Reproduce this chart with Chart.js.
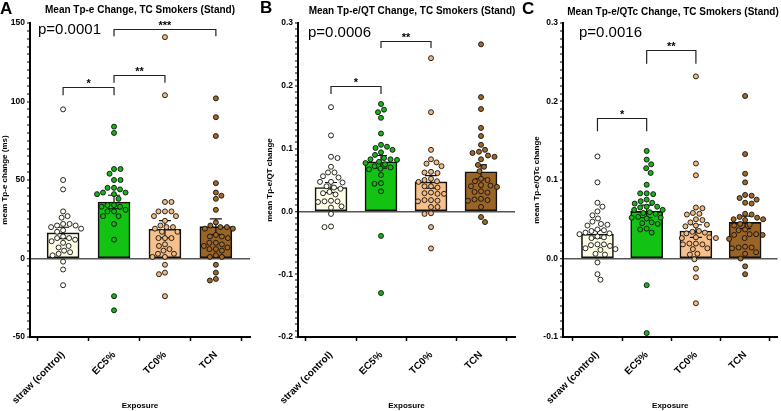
<!DOCTYPE html>
<html>
<head>
<meta charset="utf-8">
<script src="https://cdn.jsdelivr.net/npm/chart.js@4.4.1/dist/chart.umd.min.js"></script>
<style>
  html, body { margin: 0; padding: 0; background: #fff; }
  #wrap { position: relative; width: 781px; height: 411px; overflow: hidden; }
  canvas { position: absolute; top: 0; }
</style>
</head>
<body>
<div id="wrap">
  <canvas id="panelA" width="260" height="411" style="left:0"></canvas>
  <canvas id="panelB" width="260" height="411" style="left:260px"></canvas>
  <canvas id="panelC" width="261" height="411" style="left:520px"></canvas>
</div>
<script>
// ---- data ----
const categories = ['straw (control)', 'EC5%', 'TC0%', 'TCN'];

// A: mean Tp-e change (ms)
const tpeStraw = [95, 50, 44, 30, 27, 26, 22, 22, 21, 21, 20, 19, 18, 17, 14, 13, 13, 12, 11, 10, 8, 7, 5, 4, 3, 2, -2, -7, -17];
const tpeEc5   = [84, 80, 57, 57, 54, 50, 50, 45, 45, 44, 42, 42, 41, 41, 38, 34, 34, 33, 33, 31, 30, 30, 27, 27, 22, 12, -24, -33];
const tpeTc0   = [141, 104, 36, 36, 30, 30, 30, 27, 27, 24, 21, 20, 20, 19, 17, 17, 13, 13, 13, 9, 8, 6, 5, 3, 3, 1, 1, -4, -9, -10, -24];
const tpeTcn   = [102, 90, 78, 48, 42, 40, 38, 31, 23, 21, 20, 20, 19, 19, 15, 14, 14, 13, 10, 10, 9, 8, 7, 6, 6, 5, 2, 1, 1, -4, -9, -13, -14];
const tpeMeans = [16.3, 36.0, 18.6, 20.3];
const tpeSem   = [3.6, 4.3, 5.5, 5.0];
const tpeBrackets = [
  { from: 0, to: 1, y: 109, drop: 5, label: '*' },
  { from: 1, to: 2, y: 117, drop: 5, label: '**' },
  { from: 1, to: 3, y: 146, drop: 4.5, label: '***' }
];

// B: mean Tp-e/QT change
const qtStraw = [0.166, 0.121, 0.087, 0.085, 0.071, 0.062, 0.062, 0.056, 0.054, 0.047, 0.047, 0.046, 0.040, 0.038, 0.036, 0.031, 0.029, 0.027, 0.017, 0.016, 0.016, 0.015, 0.008, 0.006, -0.004, -0.024, -0.025];
const qtEc5   = [0.171, 0.162, 0.158, 0.149, 0.124, 0.106, 0.103, 0.101, 0.098, 0.094, 0.090, 0.085, 0.083, 0.083, 0.082, 0.079, 0.077, 0.075, 0.072, 0.070, 0.068, 0.067, 0.058, 0.045, 0.044, 0.032, -0.039, -0.130];
const qtTc0   = [0.244, 0.158, 0.098, 0.083, 0.078, 0.076, 0.072, 0.063, 0.062, 0.061, 0.052, 0.050, 0.048, 0.047, 0.040, 0.040, 0.038, 0.030, 0.029, 0.028, 0.028, 0.018, 0.018, 0.017, 0.016, 0.007, 0.007, -0.003, -0.004, -0.025, -0.059];
const qtTcn   = [0.266, 0.182, 0.163, 0.133, 0.120, 0.106, 0.098, 0.095, 0.093, 0.089, 0.087, 0.083, 0.074, 0.071, 0.064, 0.052, 0.050, 0.048, 0.042, 0.041, 0.040, 0.039, 0.032, 0.031, 0.030, 0.020, 0.019, 0.018, 0.017, 0.007, -0.009, -0.017];
const qtMeans = [0.038, 0.079, 0.047, 0.063];
const qtSem   = [0.008, 0.010, 0.010, 0.011];
const qtBrackets = [
  { from: 0, to: 1, y: 0.199, drop: 0.012, label: '*' },
  { from: 1, to: 2, y: 0.271, drop: 0.011, label: '**' }
];

// C: mean Tp-e/QTc change
const qtcStraw = [0.130, 0.097, 0.071, 0.066, 0.060, 0.055, 0.051, 0.047, 0.044, 0.043, 0.042, 0.037, 0.036, 0.035, 0.033, 0.032, 0.031, 0.028, 0.027, 0.026, 0.018, 0.018, 0.017, 0.016, 0.013, 0.012, 0.011, 0.006, 0.005, -0.005, -0.020, -0.027];
const qtcEc5   = [0.137, 0.126, 0.120, 0.115, 0.109, 0.094, 0.083, 0.083, 0.082, 0.075, 0.073, 0.071, 0.070, 0.066, 0.066, 0.065, 0.062, 0.062, 0.059, 0.058, 0.057, 0.053, 0.052, 0.052, 0.051, 0.046, 0.045, 0.044, 0.038, 0.037, 0.033, -0.034, -0.095];
const qtcTc0   = [0.232, 0.121, 0.106, 0.065, 0.064, 0.058, 0.057, 0.056, 0.050, 0.049, 0.046, 0.043, 0.042, 0.041, 0.035, 0.034, 0.033, 0.032, 0.027, 0.027, 0.026, 0.026, 0.019, 0.019, 0.018, 0.018, 0.013, 0.012, 0.006, 0.005, -0.001, -0.013, -0.024, -0.057];
const qtcTcn   = [0.207, 0.133, 0.108, 0.097, 0.081, 0.080, 0.077, 0.075, 0.071, 0.070, 0.057, 0.056, 0.053, 0.052, 0.050, 0.050, 0.049, 0.044, 0.043, 0.042, 0.037, 0.036, 0.031, 0.031, 0.030, 0.030, 0.026, 0.025, 0.015, 0.014, 0.014, 0.013, 0.008, 0.006, 0.000, -0.010, -0.020];
const qtcMeans = [0.031, 0.060, 0.035, 0.046];
const qtcSem   = [0.005, 0.008, 0.008, 0.008];
const qtcBrackets = [
  { from: 0, to: 1, y: 0.179, drop: 0.017, label: '*' },
  { from: 1, to: 2, y: 0.266, drop: 0.018, label: '**' }
];

// ---- look ----
const FONT = "'Liberation Sans', Arial, Helvetica, sans-serif";
const BAR_COLORS = ['#FFFDE4', '#13C313', '#F6C08C', '#9B6427'];
const DOT_COLORS = ['#FFFFF4', '#16B416', '#F4B97F', '#A06829'];
const INK = '#111';

Chart.defaults.font.family = FONT;
Chart.defaults.color = '#000';

const isMul = (v, m) => Math.abs(v / m - Math.round(v / m)) < 1e-6;

// Mean ± SEM whiskers, drawn right after the bars (under the dots)
const errorBars = {
  id: 'errorBars',
  afterDatasetDraw(chart, args) {
    if (args.meta.type !== 'bar') return;
    const p = chart.config.options.panel;
    const { ctx, scales: { x, y } } = chart;
    ctx.save();
    ctx.strokeStyle = INK;
    ctx.lineWidth = 1.2;
    p.means.forEach((m, i) => {
      const cx = x.getPixelForValue(i);
      const top = y.getPixelForValue(m + p.sem[i]);
      const bot = y.getPixelForValue(m - p.sem[i]);
      ctx.beginPath();
      ctx.moveTo(cx, top); ctx.lineTo(cx, bot);
      ctx.moveTo(cx - 6, top); ctx.lineTo(cx + 6, top);
      ctx.moveTo(cx - 6, bot); ctx.lineTo(cx + 6, bot);
      ctx.stroke();
    });
    ctx.restore();
  }
};

// Panel letter, title, p-value and significance brackets
const annotations = {
  id: 'annotations',
  afterDraw(chart) {
    const p = chart.config.options.panel;
    const { ctx, chartArea, scales: { x, y } } = chart;
    ctx.save();
    ctx.fillStyle = '#000';
    ctx.textBaseline = 'alphabetic';
    ctx.textAlign = 'left';
    ctx.font = 'bold 17px ' + FONT;
    ctx.fillText(p.letter, p.letterX, p.letterY);

    ctx.textAlign = 'center';
    ctx.textBaseline = 'middle';
    ctx.font = 'bold 10px ' + FONT;
    ctx.fillText(p.title, p.titleX, p.titleY);

    ctx.textAlign = 'left';
    ctx.textBaseline = 'alphabetic';
    ctx.font = '15px ' + FONT;
    ctx.fillText(p.pText, chartArea.left + p.pOffset, p.pBaseline);

    ctx.strokeStyle = '#222';
    ctx.lineWidth = 1.2;
    ctx.textAlign = 'center';
    ctx.font = 'bold 11px ' + FONT;
    p.brackets.forEach(b => {
      const x1 = x.getPixelForValue(b.from), x2 = x.getPixelForValue(b.to);
      const yl = Math.round(y.getPixelForValue(b.y)) + 0.5;
      const yd = y.getPixelForValue(b.y - b.drop);
      ctx.beginPath();
      ctx.moveTo(x1, yd); ctx.lineTo(x1, yl); ctx.lineTo(x2, yl); ctx.lineTo(x2, yd);
      ctx.stroke();
      ctx.fillText(b.label, (x1 + x2) / 2, yl - 1);
    });
    ctx.restore();
  }
};

// Spread dots sideways (pixel space) so they do not overlap, like a scatter dot plot
function swarmOffsets(vals, yScale, pxPerUnit, diam) {
  const order = vals.map((v, i) => i).sort((a, b) => vals[b] - vals[a]);
  const placed = [];
  const out = new Array(vals.length).fill(0);
  let flip = 1;
  order.forEach(i => {
    const py = yScale.getPixelForValue(vals[i]);
    let found = 0;
    for (let k = 0; k < 200; k++) {
      const cands = k === 0 ? [0] : [flip * k * 0.5, -flip * k * 0.5];
      const ok = cands.find(ox => placed.every(q => (q.x - ox) ** 2 + (q.y - py) ** 2 >= diam * diam));
      if (ok !== undefined) { found = ok; break; }
    }
    if (found !== 0) flip = -flip;
    placed.push({ x: found, y: py });
    out[i] = found / pxPerUnit;
  });
  return out;
}

function buildPanel(id, p) {
  const datasets = [{
    type: 'bar',
    order: 10,
    data: p.means.map((m, i) => ({ x: i, y: m })),
    backgroundColor: BAR_COLORS,
    borderColor: INK,
    borderWidth: 1.6,
    borderSkipped: false,
    barThickness: 32
  }].concat(p.groups.map((vals, g) => ({
    type: 'scatter',
    order: 0,
    data: vals.map(v => ({ x: g, y: v })),
    pointRadius: 2.5,
    pointHoverRadius: 2.5,
    pointBackgroundColor: DOT_COLORS[g],
    pointBorderColor: INK,
    pointBorderWidth: 0.9
  })));

  const chart = new Chart(document.getElementById(id), {
    type: 'bar',
    data: { datasets },
    plugins: [errorBars, annotations],
    options: {
      panel: p,
      responsive: false,
      animation: false,
      devicePixelRatio: 1,
      events: [],
      layout: { padding: { left: 0, right: p.padRight, top: 23, bottom: 0 } },
      plugins: { legend: { display: false }, tooltip: { enabled: false } },
      scales: {
        x: {
          type: 'linear',
          min: p.xMin, max: p.xMax,
          offset: false,
          afterFit: s => { s.height = 74; },
          afterBuildTicks: s => { s.ticks = categories.map((c, i) => ({ value: i })); },
          ticks: {
            autoSkip: false, minRotation: 45, maxRotation: 45, padding: 8,
            color: '#000', font: { size: 10, weight: 'bold' },
            callback: v => categories[v]
          },
          grid: { drawOnChartArea: false, tickLength: 4, tickColor: '#000', tickWidth: 1.5 },
          border: { color: '#000', width: 2 },
          title: { display: true, text: 'Exposure', color: '#000', font: { size: 8, weight: 'bold' }, padding: { top: 0, bottom: 0 } }
        },
        y: {
          min: p.yMin, max: p.yMax,
          afterFit: s => { s.width = p.axisWidth; },
          afterBuildTicks: s => {
            const n = Math.round((p.yMax - p.yMin) / p.minorStep);
            const t = [];
            for (let i = 0; i <= n; i++) t.push({ value: +(p.yMin + i * p.minorStep).toFixed(6) });
            s.ticks = t;
          },
          ticks: {
            autoSkip: false, padding: 2,
            color: '#000', font: { size: 8.5, weight: 'bold' },
            callback: v => isMul(v, p.majorStep) ? (p.decimals ? v.toFixed(p.decimals) : String(Math.round(v))) : ''
          },
          grid: {
            drawOnChartArea: true,
            color: c => (c.tick && Math.abs(c.tick.value) < 1e-9) ? '#555' : 'rgba(0,0,0,0)',
            lineWidth: c => (c.tick && Math.abs(c.tick.value) < 1e-9) ? 1.5 : 0,
            tickLength: 3, tickColor: '#000', tickWidth: 1.2
          },
          border: { color: '#000', width: 2 },
          title: { display: true, text: p.yTitle, color: '#000', font: { size: 8, weight: 'bold' }, padding: { top: p.yTitlePad, bottom: 0 } }
        }
      }
    }
  });

  const xs = chart.scales.x;
  const pxPerUnit = xs.getPixelForValue(1) - xs.getPixelForValue(0);
  p.groups.forEach((vals, g) => {
    const offs = swarmOffsets(vals, chart.scales.y, pxPerUnit, 6.2);
    chart.data.datasets[g + 1].data = vals.map((v, i) => ({ x: g + offs[i], y: v }));
  });
  chart.update('none');
  return chart;
}

buildPanel('panelA', {
  letter: 'A', letterX: 0, letterY: 14,
  title: 'Mean Tp-e Change, TC Smokers (Stand)', titleX: 140, titleY: 10,
  pText: 'p=0.0001', pOffset: 8, pBaseline: 34,
  yTitle: 'mean Tp-e change (ms)', yTitlePad: 0,
  groups: [tpeStraw, tpeEc5, tpeTc0, tpeTcn], means: tpeMeans, sem: tpeSem, brackets: tpeBrackets,
  yMin: -50, yMax: 150, minorStep: 5, majorStep: 50, decimals: 0,
  xMin: -0.65, xMax: 3.67, axisWidth: 30, padRight: 10
});
buildPanel('panelB', {
  letter: 'B', letterX: 0, letterY: 13,
  title: 'Mean Tp-e/QT Change, TC Smokers (Stand)', titleX: 152, titleY: 11.5,
  pText: 'p=0.0006', pOffset: 10, pBaseline: 37,
  yTitle: 'mean Tp-e/QT change', yTitlePad: 4.7,
  groups: [qtStraw, qtEc5, qtTc0, qtTcn], means: qtMeans, sem: qtSem, brackets: qtBrackets,
  yMin: -0.2, yMax: 0.3, minorStep: 0.01, majorStep: 0.1, decimals: 1,
  xMin: -0.66, xMax: 3.68, axisWidth: 38, padRight: 5
});
buildPanel('panelC', {
  letter: 'C', letterX: 2, letterY: 14,
  title: 'Mean Tp-e/QTc Change, TC Smokers (Stand)', titleX: 153, titleY: 12.5,
  pText: 'p=0.0016', pOffset: 16, pBaseline: 37,
  yTitle: 'mean Tp-e/QTc change', yTitlePad: 12,
  groups: [qtcStraw, qtcEc5, qtcTc0, qtcTcn], means: qtcMeans, sem: qtcSem, brackets: qtcBrackets,
  yMin: -0.1, yMax: 0.3, minorStep: 0.01, majorStep: 0.1, decimals: 1,
  xMin: -0.7, xMax: 3.66, axisWidth: 43, padRight: 0
});
</script>
</body>
</html>
